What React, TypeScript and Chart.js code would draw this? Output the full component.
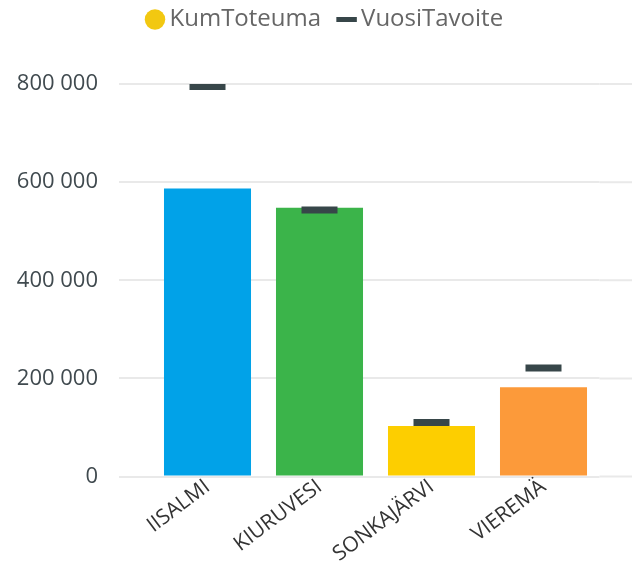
import React, { useEffect, useRef } from "react";
import { Chart, registerables } from "chart.js";

Chart.register(...registerables);

const categories = ["IISALMI", "KIURUVESI", "SONKAJÄRVI", "VIEREMÄ"];
const kumToteuma = [587000, 548000, 103000, 182000];
const vuosiTavoite = [795000, 543000, 110000, 221000];
const yTicks = [0, 200000, 400000, 600000, 800000];

const barColors = ["#01A2E8", "#3BB44A", "#FDCE00", "#FC9A3A"];
const targetColor = "#374649";
const legendYellow = "#F2C811";
const gridColor = "#E9E9E9";
const FONT = "'Open Sans', 'Noto Sans', sans-serif";

const fmt = (n: number) => String(n).replace(/\B(?=(\d{3})+(?!\d))/g, " ");

const LEGEND_PAD = 23;

const gridExtend = {
  id: "gridExtend",
  beforeInit(chart: any) {
    const lg = chart.legend;
    if (lg) {
      const orig = lg.fit.bind(lg);
      lg.fit = function () {
        orig();
        this.height = 84;
      };
    }
  },
  afterLayout(chart: any) {
    const lg = chart.legend;
    if (!lg || !lg.lineWidths) return;
    const lw = lg.lineWidths[0];
    const start = (lg.left + LEGEND_PAD + lg.right - lw) / 2;
    const delta = 152.5 - start;
    lg.left += delta;
    lg.right += delta;
    lg.top = 7.5 - LEGEND_PAD;
  },
  beforeDatasetsDraw(chart: any) {
    const y = chart.scales.y;
    const ctx = chart.ctx;
    ctx.save();
    ctx.strokeStyle = gridColor;
    ctx.lineWidth = 2;
    y.ticks.forEach((t: any) => {
      const py = y.getPixelForValue(t.value);
      ctx.beginPath();
      ctx.moveTo(chart.chartArea.right, py);
      ctx.lineTo(chart.width, py);
      ctx.stroke();
    });
    ctx.restore();
  },
};

export default function App() {
  const ref = useRef<HTMLCanvasElement | null>(null);
  useEffect(() => {
    document.body.style.margin = "0";
    const canvas = ref.current;
    if (!canvas) return;
    const chart = new Chart(canvas, {
      type: "bar",
      data: {
        labels: categories,
        datasets: [
          {
            type: "bar",
            label: "KumToteuma",
            data: kumToteuma,
            backgroundColor: barColors,
            barPercentage: 0.777,
            categoryPercentage: 1,
            order: 2,
          } as any,
          {
            type: "line",
            label: "VuosiTavoite",
            data: vuosiTavoite,
            showLine: false,
            pointStyle: "line",
            pointRadius: 18,
            pointHoverRadius: 18,
            pointBorderWidth: 7,
            pointHoverBorderWidth: 7,
            borderColor: targetColor,
            backgroundColor: targetColor,
            order: 1,
          } as any,
        ],
      },
      options: {
        responsive: false,
        animation: false,
        layout: { padding: { left: 0, right: 32.5, top: 0, bottom: 0 } },
        plugins: {
          tooltip: { enabled: false },
          legend: {
            display: true,
            position: "top",
            labels: {
              usePointStyle: true,
              boxHeight: 14.5,
              boxWidth: 5,
              padding: LEGEND_PAD,
              color: "#666666",
              font: { family: FONT, size: 24 },
              generateLabels: () => [
                {
                  text: "KumToteuma",
                  fillStyle: legendYellow,
                  strokeStyle: legendYellow,
                  lineWidth: 0,
                  pointStyle: "circle",
                  datasetIndex: 0,
                  fontColor: "#666666",
                  hidden: false,
                } as any,
                {
                  text: "VuosiTavoite",
                  fillStyle: targetColor,
                  strokeStyle: targetColor,
                  lineWidth: 5,
                  pointStyle: "line",
                  datasetIndex: 1,
                  fontColor: "#666666",
                  hidden: false,
                } as any,
              ],
            },
          },
        },
        scales: {
          x: {
            type: "category",
            offset: true,
            grid: { display: false, drawTicks: false },
            border: { display: false },
            ticks: {
              color: "#333333",
              font: { family: FONT, size: 21 },
              minRotation: 37,
              maxRotation: 37,
              padding: -2,
              autoSkip: false,
            },
            afterFit: (s: any) => {
              s.height = 89.5;
            },
          },
          y: {
            min: 0,
            max: 800000,
            grid: { color: gridColor, lineWidth: 2, drawTicks: true, tickLength: 32.5 },
            border: { display: false },
            afterBuildTicks: (s: any) => {
              s.ticks = yTicks.map((v) => ({ value: v }));
            },
            ticks: {
              color: "#404A4F",
              font: { family: FONT, size: 22 },
              padding: 21,
              callback: (v: any) => fmt(Number(v)),
            },
            afterFit: (s: any) => {
              s.width = 151.5;
            },
          },
        },
      },
      plugins: [gridExtend],
    } as any);
    return () => chart.destroy();
  }, []);
  return (
    <div style={{ width: 632, height: 566 }}>
      <canvas ref={ref} width={632} height={566} style={{ display: "block" }} />
    </div>
  );
}
